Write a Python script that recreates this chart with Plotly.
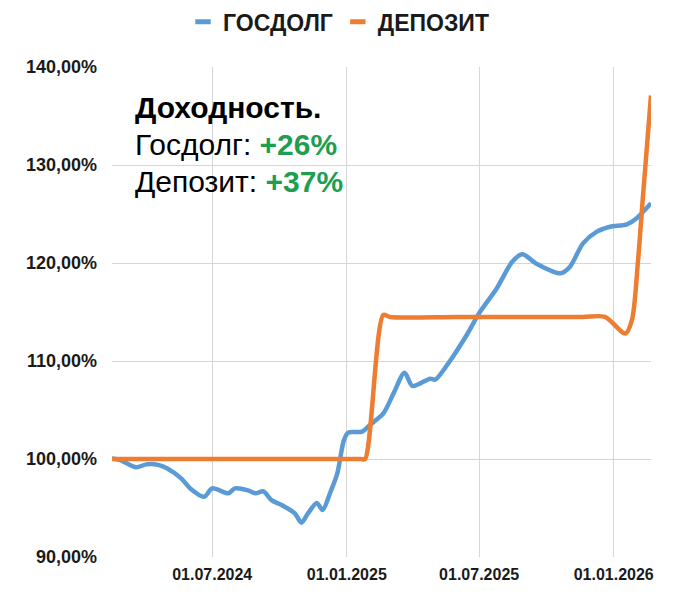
import plotly.graph_objects as go

# ---- data ----
gos_dates = ["2024-02-15", "2024-02-26", "2024-03-19", "2024-04-02", "2024-04-18", "2024-04-30",
             "2024-05-20", "2024-06-01", "2024-06-20", "2024-07-01", "2024-07-23", "2024-08-01",
             "2024-08-19", "2024-08-29", "2024-09-09", "2024-09-20", "2024-10-04", "2024-10-22",
             "2024-10-31", "2024-11-09", "2024-11-21", "2024-11-29", "2024-12-09", "2024-12-19",
             "2024-12-28", "2025-01-03", "2025-01-22", "2025-02-02", "2025-02-20", "2025-03-06",
             "2025-03-21", "2025-04-01", "2025-04-25", "2025-05-02", "2025-05-23", "2025-06-14",
             "2025-07-02", "2025-07-25", "2025-08-15", "2025-08-29", "2025-09-18", "2025-10-20",
             "2025-11-02", "2025-11-20", "2025-12-09", "2025-12-27", "2026-01-19", "2026-02-01",
             "2026-02-21"]
gos_values = [100.05, 99.9, 99.15, 99.45, 99.4, 99.05,
              98.0, 97.0, 96.15, 97.0, 96.5, 97.0,
              96.8, 96.5, 96.7, 95.8, 95.3, 94.45,
              93.5, 94.45, 95.5, 94.8, 96.5, 98.5,
              101.9, 102.7, 102.8, 103.5, 104.65, 106.7,
              108.8, 107.45, 108.2, 108.1, 110.1, 112.65,
              115.0, 117.4, 120.1, 120.9, 119.9, 118.95,
              119.6, 122.0, 123.2, 123.7, 123.95, 124.55,
              126.1]

dep_dates = ["2024-02-15", "2024-08-01", "2025-01-20", "2025-01-26", "2025-02-20", "2025-03-01",
             "2025-06-01", "2025-09-01", "2025-11-20", "2025-12-20", "2026-01-17", "2026-01-26",
             "2026-02-03", "2026-02-10", "2026-02-21"]
dep_values = [100, 100, 100, 100, 114.7, 114.5,
              114.5, 114.5, 114.5, 114.5, 112.8, 114.2,
              120.0, 126.8, 137.1]

series_names = ["ГОСДОЛГ", "ДЕПОЗИТ"]
series_colors = ["#5B9BD5", "#ED7D31"]

x_tick_vals = ["2024-07-01", "2025-01-01", "2025-07-01", "2026-01-01"]
x_tick_text = ["01.07.2024", "01.01.2025", "01.07.2025", "01.01.2026"]
y_tick_vals = [90, 100, 110, 120, 130, 140]
y_tick_text = ["90,00%", "100,00%", "110,00%", "120,00%", "130,00%", "140,00%"]

title_line = "Доходность."
gos_label, gos_yield = "Госдолг: ", "+26%"
dep_label, dep_yield = "Депозит: ", "+37%"
green = "#1E9E50"

FONT = "Liberation Sans, Arial, sans-serif"

fig = go.Figure()
for dates, vals, name, col in [(gos_dates, gos_values, series_names[0], series_colors[0]),
                               (dep_dates, dep_values, series_names[1], series_colors[1])]:
    fig.add_trace(go.Scatter(x=dates, y=vals, mode="lines", name=name,
                             line=dict(color=col, width=4.5, shape="spline", smoothing=0.8),
                             showlegend=False, hoverinfo="skip"))
# legend entries
for name, col in zip(series_names, series_colors):
    fig.add_trace(go.Scatter(x=[None], y=[None], mode="markers", name=name,
                             marker=dict(symbol="line-ew", size=11,
                                         line=dict(color=col, width=5))))

fig.update_layout(
    width=677, height=608,
    margin=dict(l=112, r=26, t=67, b=51),
    plot_bgcolor="white", paper_bgcolor="white",
    font=dict(family=FONT, color="#1a1a1a"),
    legend=dict(orientation="h", xref="container", yref="container",
                x=0.5, xanchor="center", y=1 - 21.7 / 608, yanchor="middle",
                font=dict(size=23, family=FONT, color="#1a1a1a", weight="bold"),
                itemwidth=30, bgcolor="rgba(0,0,0,0)"),
    xaxis=dict(type="date", range=["2024-02-15", "2026-02-21"],
               tickvals=x_tick_vals, ticktext=x_tick_text,
               tickfont=dict(size=16, family=FONT, weight="bold", color="#1a1a1a"),
               showgrid=True, gridcolor="#d6d6d6", gridwidth=1,
               zeroline=False, showline=False, ticks="", ticklabelstandoff=6),
    yaxis=dict(range=[90, 140], tickvals=y_tick_vals, ticktext=y_tick_text,
               tickfont=dict(size=18, family=FONT, weight="bold", color="#1a1a1a"),
               showgrid=True, gridcolor="#d6d6d6", gridwidth=1,
               zeroline=False, showline=False, ticks="", ticklabelstandoff=14),
)

ax0 = (133 - 112) / 539
fig.add_annotation(xref="paper", yref="paper", x=ax0, y=(557 - 107.5) / 490,
                   xanchor="left", yanchor="middle", showarrow=False,
                   text=f"<b>{title_line}</b>", font=dict(size=30, family=FONT, color="black"))
fig.add_annotation(xref="paper", yref="paper", x=ax0, y=(557 - 144) / 490,
                   xanchor="left", yanchor="middle", showarrow=False,
                   text=f"{gos_label}<b><span style='color:{green}'>{gos_yield}</span></b>",
                   font=dict(size=30, family=FONT, color="black"))
fig.add_annotation(xref="paper", yref="paper", x=ax0, y=(557 - 181) / 490,
                   xanchor="left", yanchor="middle", showarrow=False,
                   text=f"{dep_label}<b><span style='color:{green}'>{dep_yield}</span></b>",
                   font=dict(size=30, family=FONT, color="black"))

fig.write_html("out.html")
